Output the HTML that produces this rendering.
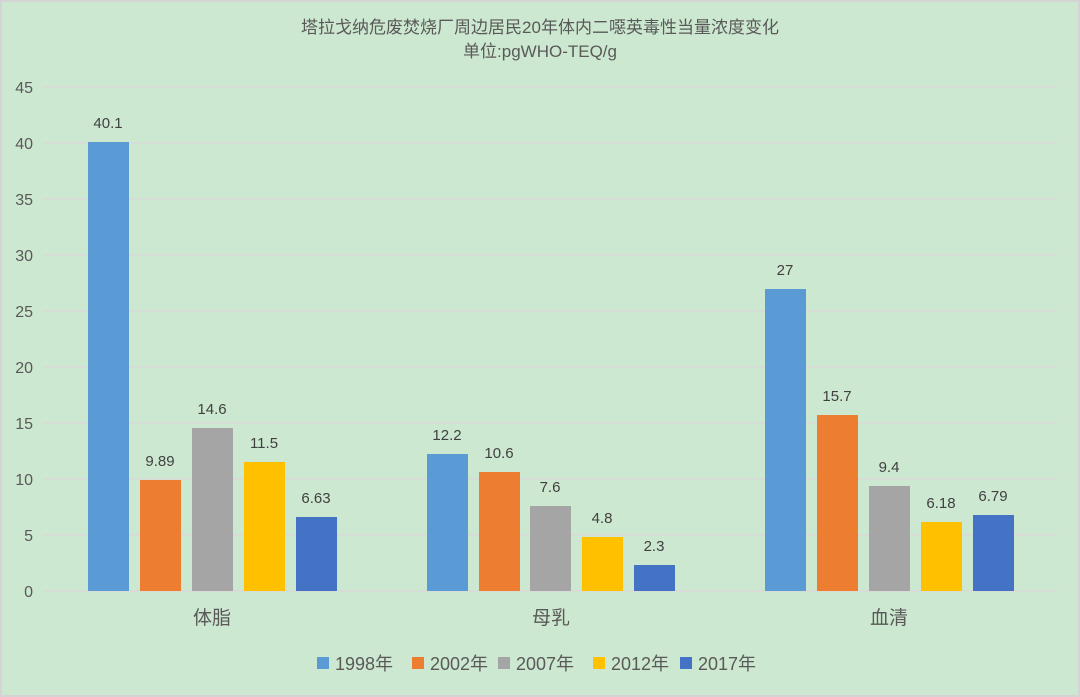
<!DOCTYPE html>
<html><head><meta charset="utf-8"><style>
html,body{margin:0;padding:0;background:#cde8d0}
svg{display:block}
text{font-family:"Liberation Sans","Noto Sans CJK SC",sans-serif}
</style></head><body>
<svg width="1080" height="697" viewBox="0 0 1080 697" xmlns="http://www.w3.org/2000/svg">
<rect x="1" y="1" width="1078" height="695" fill="#cde8d0" stroke="#d4d4d4" stroke-width="2"/>
<text x="540" y="33" text-anchor="middle" font-size="17" fill="#595959">塔拉戈纳危废焚烧厂周边居民20年体内二噁英毒性当量浓度变化</text>
<text x="540" y="57" text-anchor="middle" font-size="17" fill="#595959">单位:pgWHO-TEQ/g</text>
<g stroke="#d9d9d9" stroke-width="1.5">
<line x1="43" y1="87" x2="1057" y2="87"/><line x1="43" y1="143" x2="1057" y2="143"/>
<line x1="43" y1="199" x2="1057" y2="199"/><line x1="43" y1="255" x2="1057" y2="255"/>
<line x1="43" y1="311" x2="1057" y2="311"/><line x1="43" y1="367" x2="1057" y2="367"/>
<line x1="43" y1="423" x2="1057" y2="423"/><line x1="43" y1="479" x2="1057" y2="479"/>
<line x1="43" y1="535" x2="1057" y2="535"/><line x1="43" y1="591" x2="1057" y2="591"/>
</g>
<g font-size="16" fill="#595959" text-anchor="end">
<text x="33" y="93">45</text><text x="33" y="149">40</text><text x="33" y="205">35</text>
<text x="33" y="261">30</text><text x="33" y="317">25</text><text x="33" y="373">20</text>
<text x="33" y="429">15</text><text x="33" y="485">10</text><text x="33" y="541">5</text>
<text x="33" y="597">0</text>
</g>
<g>
<rect x="88" y="142" width="41" height="449" fill="#5b9bd5"/>
<rect x="140" y="480" width="41" height="111" fill="#ed7d31"/>
<rect x="192" y="428" width="41" height="163" fill="#a5a5a5"/>
<rect x="244" y="462" width="41" height="129" fill="#ffc000"/>
<rect x="296" y="517" width="41" height="74" fill="#4472c4"/>
<rect x="427" y="454" width="41" height="137" fill="#5b9bd5"/>
<rect x="479" y="472" width="41" height="119" fill="#ed7d31"/>
<rect x="530" y="506" width="41" height="85" fill="#a5a5a5"/>
<rect x="582" y="537" width="41" height="54" fill="#ffc000"/>
<rect x="634" y="565" width="41" height="26" fill="#4472c4"/>
<rect x="765" y="289" width="41" height="302" fill="#5b9bd5"/>
<rect x="817" y="415" width="41" height="176" fill="#ed7d31"/>
<rect x="869" y="486" width="41" height="105" fill="#a5a5a5"/>
<rect x="921" y="522" width="41" height="69" fill="#ffc000"/>
<rect x="973" y="515" width="41" height="76" fill="#4472c4"/>
</g>
<g font-size="15" fill="#404040" text-anchor="middle">
<text x="108" y="128">40.1</text><text x="160" y="466">9.89</text><text x="212" y="414">14.6</text>
<text x="264" y="448">11.5</text><text x="316" y="503">6.63</text>
<text x="447" y="440">12.2</text><text x="499" y="458">10.6</text><text x="550" y="492">7.6</text>
<text x="602" y="523">4.8</text><text x="654" y="551">2.3</text>
<text x="785" y="275">27</text><text x="837" y="401">15.7</text><text x="889" y="472">9.4</text>
<text x="941" y="508">6.18</text><text x="993" y="501">6.79</text>
</g>
<g font-size="19" fill="#595959" text-anchor="middle">
<text x="212" y="624">体脂</text><text x="551" y="624">母乳</text><text x="889" y="624">血清</text>
</g>
<g font-size="18" fill="#595959">
<rect x="317" y="657" width="12" height="12" fill="#5b9bd5"/><text x="335" y="670">1998年</text>
<rect x="412" y="657" width="12" height="12" fill="#ed7d31"/><text x="430" y="670">2002年</text>
<rect x="498" y="657" width="12" height="12" fill="#a5a5a5"/><text x="516" y="670">2007年</text>
<rect x="593" y="657" width="12" height="12" fill="#ffc000"/><text x="611" y="670">2012年</text>
<rect x="680" y="657" width="12" height="12" fill="#4472c4"/><text x="698" y="670">2017年</text>
</g>
</svg>
</body></html>
